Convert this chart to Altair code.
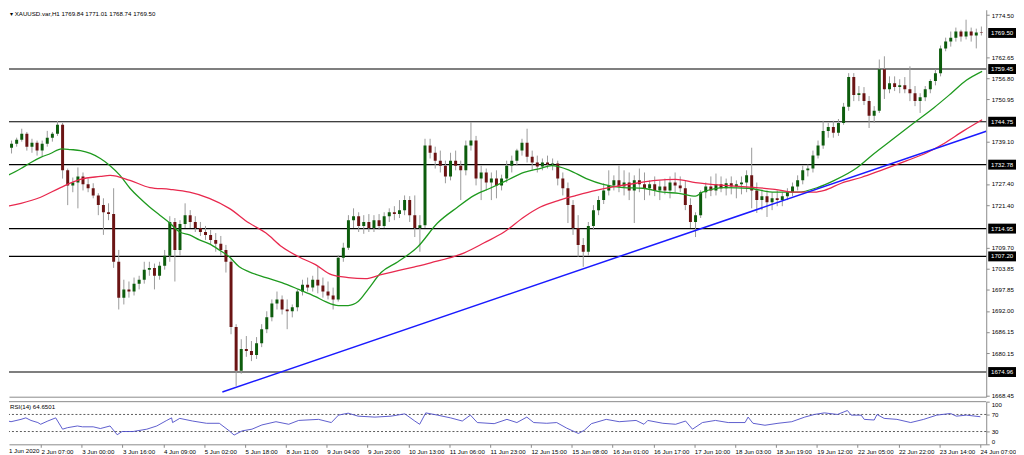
import json
import altair as alt
import pandas as pd

# ---------------- data (2-hour candles, bar index = hourly bar from 1 Jun 2020) ----------------
candle_open = [
    1739.5, 1740.0, 1737.5, 1738.6, 1739.7, 1741.4, 1737.8, 1738.9, 1736.7, 1738.6,
    1740.3, 1741.4, 1743.9, 1731.2, 1727.0, 1727.8, 1729.5, 1727.3, 1726.2, 1724.2,
    1721.5, 1719.5, 1719.0, 1705.7, 1695.7, 1698.0, 1697.4, 1699.6, 1700.7, 1703.5,
    1704.0, 1701.8, 1704.6, 1707.4, 1716.8, 1709.0, 1716.2, 1718.7, 1716.8, 1715.1,
    1714.0, 1713.2, 1711.8, 1710.7, 1709.0, 1705.7, 1687.5, 1675.3, 1681.4, 1680.8,
    1679.7, 1683.0, 1686.9, 1690.2, 1694.1, 1695.2, 1692.4, 1691.9, 1693.0, 1697.4,
    1699.3, 1698.5, 1700.7, 1699.1, 1697.4, 1696.3, 1695.2, 1706.8, 1709.6, 1717.3,
    1718.4, 1715.7, 1716.8, 1715.1, 1717.3, 1715.7, 1718.4, 1719.5, 1719.0, 1720.1,
    1722.9, 1718.7, 1715.1, 1715.9, 1738.1, 1736.1, 1733.9, 1732.5, 1729.5, 1733.9,
    1732.5, 1731.2, 1738.1, 1739.5, 1728.9, 1730.6, 1727.8, 1728.9, 1727.0, 1728.9,
    1732.5, 1733.9, 1736.7, 1738.9, 1735.0, 1733.4, 1732.3, 1733.4, 1732.8, 1733.1,
    1728.9, 1726.2, 1721.5, 1715.1, 1710.4, 1708.5, 1715.7, 1720.1, 1722.9, 1725.6,
    1727.0, 1728.4, 1726.7, 1727.8, 1725.6, 1728.4, 1727.3, 1726.2, 1727.3, 1725.6,
    1726.7, 1725.6, 1727.8, 1727.0, 1726.2, 1721.5, 1716.8, 1718.7, 1725.1, 1726.7,
    1725.6, 1727.3, 1726.2, 1727.6, 1726.7, 1727.3, 1727.8, 1729.8, 1725.6, 1722.9,
    1724.0, 1722.3, 1723.4, 1722.9, 1724.0, 1725.1, 1726.7, 1728.4, 1731.2, 1731.7,
    1735.3, 1738.1, 1742.2, 1743.3, 1741.7, 1744.4, 1748.9, 1757.2, 1752.2, 1752.7,
    1750.5, 1746.4, 1747.8, 1759.4, 1753.8, 1755.5, 1754.4, 1754.9, 1753.8, 1752.7,
    1750.5, 1751.6, 1753.8, 1756.1, 1758.3, 1765.2, 1767.1, 1768.2, 1769.9, 1768.5,
    1769.9, 1768.8, 1769.6,
]
candle_high = [
    1741.4, 1740.6, 1739.5, 1740.3, 1742.8, 1741.9, 1740.0, 1739.5, 1739.5, 1742.2,
    1741.9, 1745.0, 1744.4, 1731.7, 1729.2, 1732.0, 1730.6, 1728.9, 1727.6, 1724.8,
    1723.4, 1722.0, 1726.2, 1709.0, 1700.7, 1700.2, 1701.3, 1701.8, 1705.7, 1705.7,
    1705.2, 1705.7, 1709.0, 1718.4, 1717.9, 1717.3, 1722.0, 1720.1, 1718.4, 1716.8,
    1715.7, 1714.6, 1713.7, 1712.9, 1710.4, 1706.8, 1688.3, 1684.1, 1685.0, 1683.6,
    1684.7, 1688.3, 1691.9, 1695.2, 1697.4, 1696.3, 1695.2, 1693.8, 1698.0, 1700.7,
    1701.3, 1701.8, 1704.3, 1701.3, 1700.2, 1698.5, 1707.6, 1711.0, 1718.7, 1720.6,
    1719.5, 1718.7, 1719.0, 1718.7, 1719.0, 1719.5, 1720.6, 1721.2, 1722.9, 1724.2,
    1724.0, 1724.2, 1718.7, 1740.0, 1740.0, 1737.8, 1736.7, 1733.9, 1736.1, 1736.7,
    1733.9, 1739.5, 1744.7, 1740.8, 1732.5, 1731.7, 1730.6, 1731.2, 1730.0, 1733.9,
    1735.3, 1737.2, 1740.0, 1742.8, 1736.7, 1735.3, 1734.5, 1735.3, 1734.5, 1733.9,
    1730.6, 1727.8, 1722.9, 1718.7, 1712.3, 1716.8, 1721.5, 1724.0, 1727.6, 1731.2,
    1729.8, 1732.5, 1731.2, 1730.6, 1729.8, 1731.7, 1730.6, 1728.4, 1729.5, 1728.4,
    1728.9, 1729.5, 1730.6, 1729.5, 1728.4, 1723.4, 1719.5, 1725.6, 1727.8, 1729.5,
    1730.3, 1729.5, 1728.9, 1729.5, 1728.4, 1729.5, 1731.2, 1737.5, 1727.8, 1725.6,
    1725.6, 1725.1, 1725.6, 1725.1, 1726.2, 1727.8, 1729.8, 1732.5, 1732.8, 1736.7,
    1739.5, 1745.0, 1744.4, 1745.0, 1745.5, 1750.0, 1758.3, 1758.3, 1754.7, 1754.4,
    1751.9, 1749.1, 1762.1, 1763.0, 1757.4, 1757.4, 1756.6, 1757.2, 1760.2, 1754.7,
    1752.7, 1754.7, 1756.6, 1759.4, 1766.0, 1768.2, 1769.9, 1771.0, 1770.4, 1773.2,
    1771.0, 1770.7, 1771.3,
]
candle_low = [
    1738.1, 1736.7, 1735.9, 1737.8, 1739.2, 1736.7, 1736.1, 1735.3, 1735.0, 1737.8,
    1739.2, 1740.8, 1728.9, 1721.5, 1725.1, 1720.6, 1725.6, 1725.1, 1723.4, 1718.7,
    1713.2, 1717.3, 1704.0, 1692.4, 1693.8, 1695.7, 1696.3, 1698.0, 1699.6, 1701.8,
    1698.0, 1700.7, 1703.5, 1705.7, 1700.2, 1707.4, 1715.1, 1715.1, 1714.0, 1712.9,
    1711.8, 1710.4, 1708.5, 1707.4, 1702.7, 1685.5, 1671.1, 1674.5, 1679.2, 1678.0,
    1678.6, 1681.9, 1685.8, 1689.1, 1692.4, 1691.0, 1686.9, 1690.2, 1691.9, 1696.3,
    1697.4, 1697.4, 1696.9, 1695.7, 1695.2, 1692.4, 1694.6, 1705.7, 1709.0, 1715.1,
    1714.0, 1713.5, 1714.0, 1714.0, 1714.6, 1715.1, 1716.8, 1717.3, 1717.9, 1718.7,
    1716.8, 1712.6, 1708.5, 1715.1, 1734.5, 1731.7, 1730.6, 1727.6, 1728.4, 1731.2,
    1722.9, 1729.8, 1736.7, 1727.0, 1722.9, 1725.6, 1722.9, 1723.4, 1725.6, 1727.8,
    1730.6, 1732.5, 1735.3, 1733.4, 1731.2, 1730.6, 1731.2, 1731.7, 1731.2, 1727.0,
    1724.2, 1716.5, 1713.2, 1707.1, 1704.3, 1707.4, 1714.6, 1718.7, 1721.8, 1724.2,
    1725.6, 1725.1, 1724.2, 1722.9, 1716.5, 1725.1, 1722.9, 1724.2, 1724.0, 1722.9,
    1724.5, 1723.4, 1725.1, 1725.1, 1720.1, 1715.1, 1712.6, 1717.9, 1723.4, 1724.0,
    1724.2, 1725.1, 1724.2, 1724.5, 1723.4, 1724.5, 1725.1, 1720.6, 1719.3, 1720.1,
    1718.2, 1720.1, 1721.2, 1721.2, 1722.9, 1724.0, 1725.6, 1727.3, 1729.5, 1730.6,
    1734.5, 1737.2, 1740.3, 1740.3, 1740.8, 1743.9, 1747.8, 1750.5, 1750.5, 1749.4,
    1743.0, 1744.4, 1747.2, 1751.1, 1752.7, 1753.3, 1752.7, 1752.7, 1750.5, 1749.1,
    1747.2, 1750.5, 1752.7, 1754.9, 1757.4, 1764.4, 1765.7, 1767.1, 1767.1, 1767.7,
    1767.1, 1765.2, 1768.8,
]
candle_close = [
    1740.0, 1737.5, 1738.6, 1739.7, 1741.4, 1737.8, 1738.9, 1736.7, 1738.6, 1740.3,
    1741.4, 1743.9, 1731.2, 1727.0, 1727.8, 1729.5, 1727.3, 1726.2, 1724.2, 1721.5,
    1719.5, 1719.0, 1705.7, 1695.7, 1698.0, 1697.4, 1699.6, 1700.7, 1703.5, 1704.0,
    1701.8, 1704.6, 1707.4, 1716.8, 1709.0, 1716.2, 1718.7, 1716.8, 1715.1, 1714.0,
    1713.2, 1711.8, 1710.7, 1709.0, 1705.7, 1687.5, 1675.3, 1681.4, 1680.8, 1679.7,
    1683.0, 1686.9, 1690.2, 1694.1, 1695.2, 1692.4, 1691.9, 1693.0, 1697.4, 1699.3,
    1698.5, 1700.7, 1699.1, 1697.4, 1696.3, 1695.2, 1706.8, 1709.6, 1717.3, 1718.4,
    1715.7, 1716.8, 1715.1, 1717.3, 1715.7, 1718.4, 1719.5, 1719.0, 1720.1, 1722.9,
    1718.7, 1715.1, 1715.9, 1738.1, 1736.1, 1733.9, 1732.5, 1729.5, 1733.9, 1732.5,
    1731.2, 1738.1, 1739.5, 1728.9, 1730.6, 1727.8, 1728.9, 1727.0, 1728.9, 1732.5,
    1733.9, 1736.7, 1738.9, 1735.0, 1733.4, 1732.3, 1733.4, 1732.8, 1733.1, 1728.9,
    1726.2, 1721.5, 1715.1, 1710.4, 1708.5, 1715.7, 1720.1, 1722.9, 1725.6, 1727.0,
    1728.4, 1726.7, 1727.8, 1725.6, 1728.4, 1727.3, 1726.2, 1727.3, 1725.6, 1726.7,
    1725.6, 1727.8, 1727.0, 1726.2, 1721.5, 1716.8, 1718.7, 1725.1, 1726.7, 1725.6,
    1727.3, 1726.2, 1727.6, 1726.7, 1727.3, 1727.8, 1729.8, 1725.6, 1722.9, 1724.0,
    1722.3, 1723.4, 1722.9, 1724.0, 1725.1, 1726.7, 1728.4, 1731.2, 1731.7, 1735.3,
    1738.1, 1742.2, 1743.3, 1741.7, 1744.4, 1748.9, 1757.2, 1752.2, 1752.7, 1750.5,
    1746.4, 1747.8, 1759.4, 1753.8, 1755.5, 1754.4, 1754.9, 1753.8, 1752.7, 1750.5,
    1751.6, 1753.8, 1756.1, 1758.3, 1765.2, 1767.1, 1768.2, 1769.9, 1768.5, 1769.9,
    1768.8, 1769.6, 1769.5,
]

# moving averages (read at intervals along the curves)
green_ma_bar = [0.4, 8.2, 12.1, 15.9, 19.8, 24.1, 27.6, 31.5, 35.4, 39.3, 43.1, 47.0, 50.9, 54.8,
                58.7, 62.6, 66.5, 70.4, 74.2, 78.1, 82.0, 85.9, 89.8, 93.7, 97.6, 104.2, 110.4,
                117.0, 123.6, 127.5, 132.6, 136.4, 140.3, 144.2, 149.3, 155.9, 163.7, 171.4, 179.2,
                185.8, 192.0, 198.6, 205.3, 211.5, 216.1, 223.1, 229.7, 236.3, 244.1, 251.9, 259.7,
                265.9, 272.5, 275.2, 284.2, 293.1, 303.6, 312.5, 320.3, 326.9, 335.9, 342.5, 349.1,
                358.0, 365.8, 372.4, 378.6, 384.8]
green_ma_val = [1728.9, 1731.7, 1733.4, 1734.8, 1735.9, 1737.2, 1737.0, 1736.7, 1735.9, 1734.5,
                1732.5, 1729.8, 1726.2, 1723.4, 1720.9, 1718.7, 1716.5, 1714.0, 1713.2, 1711.8,
                1710.7, 1709.0, 1707.1, 1704.3, 1702.9, 1701.3, 1699.9, 1698.0, 1696.0, 1694.6,
                1693.5, 1693.5, 1694.6, 1698.0, 1702.7, 1705.7, 1709.9, 1716.5, 1720.9, 1724.2,
                1726.2, 1728.4, 1730.6, 1731.7, 1732.5, 1731.2, 1728.9, 1727.3, 1726.4, 1726.2,
                1725.1, 1724.8, 1724.0, 1725.1, 1726.4, 1726.2, 1725.1, 1725.1, 1726.4, 1728.4,
                1732.0, 1735.9, 1739.5, 1744.4, 1748.6, 1752.5, 1756.3, 1758.8]
red_ma_bar = [0.4, 8.2, 15.9, 23.7, 31.5, 39.3, 43.1, 50.9, 58.7, 66.5, 74.2, 82.0, 89.8, 97.6,
              104.2, 110.4, 117.0, 123.6, 129.8, 136.4, 143.1, 149.3, 155.9, 162.5, 168.7, 181.9,
              189.7, 197.5, 205.3, 211.5, 219.2, 225.8, 233.6, 241.4, 249.2, 257.0, 264.7, 272.5,
              284.2, 294.6, 303.6, 311.4, 319.1, 323.0, 329.6, 337.4, 345.2, 355.3, 363.1, 369.7,
              377.5, 384.8]
red_ma_val = [1720.9, 1722.0, 1723.7, 1726.4, 1728.7, 1729.5, 1729.8, 1728.4, 1726.4, 1725.9,
              1725.1, 1723.4, 1720.6, 1716.5, 1713.7, 1709.9, 1707.1, 1704.9, 1702.1, 1701.3,
              1701.0, 1702.1, 1703.2, 1704.3, 1705.4, 1708.2, 1711.0, 1714.0, 1718.2, 1720.9,
              1722.9, 1724.2, 1725.6, 1726.7, 1727.6, 1728.4, 1728.7, 1727.8, 1727.0, 1726.5,
              1725.9, 1725.1, 1725.1, 1725.6, 1727.6, 1729.2, 1731.2, 1733.9, 1736.1, 1738.6,
              1742.2, 1745.3]

# rising trend line (two anchor points)
trend_bar = [87.1, 386.4]
trend_price = [1669.4, 1742.1]

# horizontal levels and the current bid
level_prices = [1759.45, 1744.75, 1732.78, 1714.95, 1707.20, 1674.96]
bid_price = [1769.50]
price_ticks = [1774.50, 1762.65, 1756.80, 1750.95, 1739.10, 1727.40, 1721.40, 1709.70,
               1703.85, 1697.85, 1692.00, 1686.15, 1680.15, 1668.45]

# RSI(14)
rsi_bar = [0.4, 4.3, 8.2, 10.1, 12.1, 14.8, 15.9, 18.7, 21.8, 24.5, 26.4, 30.3, 32.3, 36.5, 39.3,
           43.1, 45.9, 47.8, 52.1, 57.5, 61.4, 65.3, 67.2, 67.6, 70.4, 75.4, 80.9, 85.9, 89.8,
           91.7, 94.9, 98.7, 102.6, 108.1, 113.1, 117.0, 124.8, 129.8, 132.6, 136.4, 140.3,
           146.9, 153.2, 158.6, 162.5, 164.4, 166.8, 171.4, 176.5, 181.1, 184.3, 187.0, 193.6,
           198.6, 202.5, 206.4, 209.1, 214.2, 218.1, 222.0, 226.6, 229.0, 231.7, 237.5, 242.6,
           249.2, 252.3, 253.8, 259.7, 264.7, 268.6, 271.3, 275.2, 280.3, 285.3, 291.9, 293.1,
           295.0, 299.7, 304.8, 310.2, 315.3, 319.1, 323.0, 328.1, 332.0, 333.5, 337.4, 338.6,
           342.5, 343.6, 346.4, 351.4, 356.8, 361.9, 367.0, 372.4, 374.7, 378.6, 384.1]
rsi_val = [58.5, 53, 58.5, 62, 56, 51, 47, 54.6, 62, 35.5, 39, 43, 41, 41, 37, 43, 22.4, 30, 30,
           35.5, 43, 56, 62, 51, 60.8, 54.6, 49.3, 49.3, 31.6, 21.7, 31.6, 35.5, 45.4, 53, 47,
           56, 58.5, 51, 68.4, 73, 66, 63.8, 66, 71.4, 54.6, 47, 73.7, 68.4, 62, 54.6, 68.4, 51,
           48.4, 58.5, 51, 63.8, 51, 49.3, 51, 38, 25.4, 33.2, 48.4, 58.5, 53, 56, 47, 56, 49.3,
           47, 54.6, 35.5, 51, 56, 51, 51, 63.8, 49.3, 44.7, 49.3, 53, 63.8, 70, 73.7, 70, 79.2,
           68.4, 68.4, 58.5, 57, 70, 60.8, 58.5, 51, 58.5, 68.4, 72.3, 66, 68.4, 64.65]
rsi_levels = [70, 30]
rsi_ticks = [0, 30, 70, 100]

time_labels = ["1 Jun 2020", "2 Jun 07:00", "3 Jun 00:00", "3 Jun 16:00", "4 Jun 09:00",
               "5 Jun 02:00", "5 Jun 18:00", "8 Jun 11:00", "9 Jun 04:00", "9 Jun 20:00",
               "10 Jun 13:00", "11 Jun 06:00", "11 Jun 23:00", "12 Jun 15:00", "15 Jun 08:00",
               "16 Jun 01:00", "16 Jun 17:00", "17 Jun 10:00", "18 Jun 03:00", "18 Jun 19:00",
               "19 Jun 12:00", "22 Jun 05:00", "22 Jun 22:00", "23 Jun 14:00", "24 Jun 07:00"]
header_text = "\u25be XAUUSD.var,H1  1769.84 1771.01 1768.74 1769.50"
rsi_text = "RSI(14) 64.6501"

# ---------------- chart ----------------
W = 985
H_MAIN = 390
H_RSI = 43
FONT = "Liberation Sans"
FS = 6.2
AX = "#8a8a8a"

x_scale = alt.Scale(domain=[3.5, 386.4], nice=False, zero=False)
y_scale = alt.Scale(domain=[1668.08, 1775.97], nice=False, zero=False)
r_scale = alt.Scale(domain=[0, 100], nice=False, zero=False)

candles = pd.DataFrame({
    "bar": [2 * k + 0.5 for k in range(len(candle_close))],
    "open": candle_open, "high": candle_high, "low": candle_low, "close": candle_close,
})

main_x_axis = alt.Axis(orient="bottom", labels=False, ticks=False, domainColor=AX,
                       grid=False, title=None)
price_axis = alt.Axis(orient="right", values=price_ticks, format=".2f", labelFont=FONT,
                      labelFontSize=FS, labelColor="#000", tickColor=AX, tickSize=3,
                      domainColor=AX, labelPadding=2, grid=False, title=None,
                      labelOverlap=False, labelFlush=False)


def PX(field="bar"):
    return alt.X(f"{field}:Q", scale=x_scale, axis=main_x_axis)


def PY(field):
    return alt.Y(f"{field}:Q", scale=y_scale, axis=price_axis)


level_rules = alt.Chart(pd.DataFrame({"price": level_prices})).mark_rule(
    color="#000", strokeWidth=1.1
).encode(y=PY("price"))

wicks = alt.Chart(candles).mark_rule(color="#9a9a9a", strokeWidth=1, clip=True).encode(
    x=PX(), y=PY("low"), y2="high:Q",
)
bodies = alt.Chart(candles).mark_rule(strokeWidth=3, clip=True).encode(
    x=PX(), y=PY("open"), y2="close:Q",
    color=alt.condition("datum.close >= datum.open", alt.value("#0d5c0d"), alt.value("#6b1414")),
)

green_ma = alt.Chart(pd.DataFrame({"bar": green_ma_bar, "v": green_ma_val})).mark_line(
    color="#1f9a1f", strokeWidth=1.3, interpolate="monotone", clip=True
).encode(x=PX(), y=PY("v"))

red_ma = alt.Chart(pd.DataFrame({"bar": red_ma_bar, "v": red_ma_val})).mark_line(
    color="#e8294e", strokeWidth=1.3, interpolate="monotone", clip=True
).encode(x=PX(), y=PY("v"))

trend = alt.Chart(pd.DataFrame({"bar": trend_bar, "v": trend_price})).mark_line(
    color="#1a1aff", strokeWidth=1.5, clip=True
).encode(x=PX(), y=PY("v"))

box_df = pd.DataFrame({"price": bid_price + level_prices})
boxes = alt.Chart(box_df).mark_tick(orient="horizontal", size=28, thickness=10, color="#000",
                                    opacity=1).encode(
    x=alt.value(W + 16), y=PY("price"))
box_text = alt.Chart(box_df).mark_text(color="#fff", font=FONT, fontSize=FS, align="center",
                                       baseline="middle").encode(
    x=alt.value(W + 16), y=PY("price"),
    text=alt.Text("price:Q", format=".2f"))

header = alt.Chart(pd.DataFrame({"t": [header_text]})).mark_text(
    align="left", baseline="top", font=FONT, fontSize=FS, color="#000"
).encode(x=alt.value(1), y=alt.value(1), text="t:N")

main = alt.layer(level_rules, wicks, bodies, green_ma, red_ma, trend, boxes, box_text, header
                 ).properties(width=W, height=H_MAIN)

label_expr = json.dumps(time_labels) + "[round(datum.value / 16)]"
time_axis = alt.Axis(orient="bottom", values=list(range(16, 385, 16)), labelExpr=label_expr,
                     labelAlign="left", labelPadding=1, tickSize=3, tickColor=AX,
                     domainColor=AX, labelFont=FONT, labelFontSize=FS, labelColor="#000",
                     grid=False, title=None, labelOverlap=False, labelBound=False,
                     labelFlush=False)
rsi_axis = alt.Axis(orient="right", values=rsi_ticks, labelFlush=True, labelFont=FONT,
                    labelFontSize=FS, labelColor="#000", tickColor=AX, tickSize=3,
                    domainColor=AX, labelPadding=2, grid=False, title=None)


def RY(field):
    return alt.Y(f"{field}:Q", scale=r_scale, axis=rsi_axis)


rsi_line = alt.Chart(pd.DataFrame({"bar": rsi_bar, "rsi": rsi_val})).mark_line(
    color="#4b4bc8", strokeWidth=0.9, clip=True
).encode(x=alt.X("bar:Q", scale=x_scale, axis=time_axis), y=RY("rsi"))

rsi_lv = alt.Chart(pd.DataFrame({"v": rsi_levels})).mark_rule(
    color="#333", strokeWidth=0.8, strokeDash=[2, 2]
).encode(y=RY("v"))

rsi_top = alt.Chart(pd.DataFrame({"v": [100]})).mark_rule(color=AX, strokeWidth=1).encode(
    y=RY("v"))

rsi_title = alt.Chart(pd.DataFrame({"t": [rsi_text]})).mark_text(
    align="left", baseline="middle", font=FONT, fontSize=FS, color="#000"
).encode(x=alt.value(1), y=alt.value(5), text="t:N")

first_label = alt.Chart(pd.DataFrame({"t": [time_labels[0]]})).mark_text(
    align="left", baseline="middle", font=FONT, fontSize=FS, color="#000"
).encode(x=alt.value(0), y=alt.value(H_RSI + 7), text="t:N")

rsi = alt.layer(rsi_top, rsi_lv, rsi_line, rsi_title, first_label).properties(
    width=W, height=H_RSI)

chart = alt.vconcat(main, rsi, spacing=2).properties(
    padding=0, background="white"
).configure_view(stroke=None)

chart.save("out.html", embed_options={"renderer": "svg", "actions": False})
